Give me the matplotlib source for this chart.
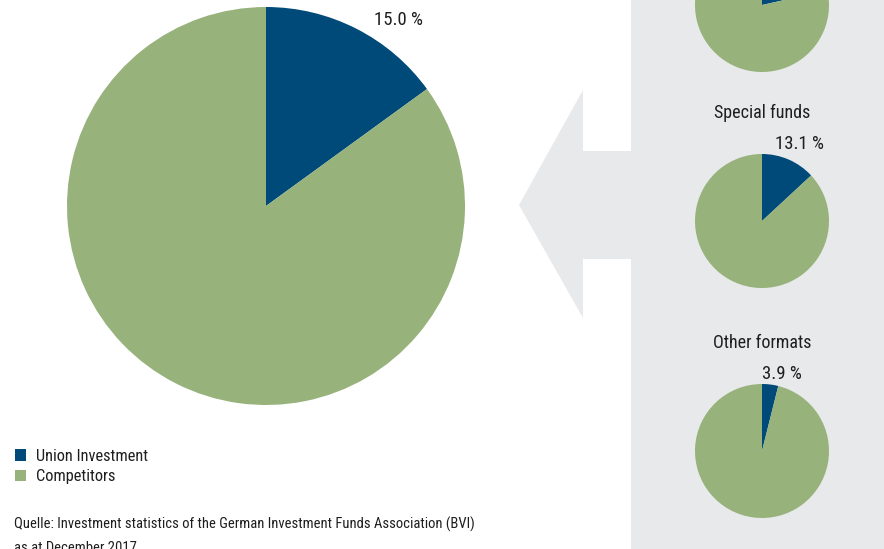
import matplotlib
matplotlib.use("Agg")
import matplotlib.pyplot as plt
from matplotlib.patches import Polygon, Rectangle

plt.rcParams["font.family"] = ["Roboto Condensed", "Roboto", "DejaVu Sans"]

BLUE = "#004a79"
GREEN = "#97b27b"
PANEL = "#e8e9eb"
INK = "#1e1e1e"

# market shares, percent of fund assets
series = ["Union Investment", "Competitors"]
total_share = 15.0
segments = ["Retail funds", "Special funds", "Other formats"]
segment_share = [21.5, 13.1, 3.9]

W, H = 884, 549
fig = plt.figure(figsize=(W / 100, H / 100), dpi=100)
ax = fig.add_axes([0, 0, 1, 1])


def py(y):
    # top-down pixel row -> data y
    return H - y


# grey panel and arrow pointing to the overall pie
ax.add_patch(Rectangle((631, 0), W - 631, H, color=PANEL, lw=0, zorder=0))
ax.add_patch(Polygon([(519, py(205)), (583, py(90)), (583, py(151)), (632, py(151)),
                      (632, py(259)), (583, py(259)), (583, py(318))],
                     closed=True, color=PANEL, lw=0, zorder=0))

# overall pie
wedges, _ = ax.pie([total_share, 100 - total_share], colors=[BLUE, GREEN],
                   startangle=90, counterclock=False, radius=199,
                   center=(266, py(206)), wedgeprops=dict(linewidth=0))
ax.text(398, py(20), f"{total_share:.1f} %", ha="center", va="center",
        fontsize=13.5, color=INK)

# one small pie per fund segment, with the label offsets above each
centers_y = [5, 221, 451]
pct_dx = [13, 13, 0]
for name, share, cy, dx in zip(segments, segment_share, centers_y, pct_dx):
    ax.pie([share, 100 - share], colors=[BLUE, GREEN], startangle=90,
           counterclock=False, radius=67, center=(762, py(cy)),
           wedgeprops=dict(linewidth=0))
    ax.text(762, py(cy - 108), name, ha="center", va="center",
            fontsize=13, color=INK)
    ax.text(762 + dx, py(cy - 77), f"{share:.1f} %", ha="left", va="center",
            fontsize=13.5, color=INK)

ax.legend(wedges, series, loc="upper left", bbox_to_anchor=(8 / W, 1 - 442 / H),
          frameon=False, fontsize=11.8, handlelength=0.7, handleheight=0.7,
          handletextpad=0.6, labelspacing=0.35, borderaxespad=0, labelcolor=INK)

ax.text(14, py(524), "Quelle: Investment statistics of the German Investment Funds Association (BVI)",
        ha="left", va="center", fontsize=10.5, color=INK)
ax.text(14, py(548), "as at December 2017", ha="left", va="center",
        fontsize=10.5, color=INK)

ax.set_xlim(0, W)
ax.set_ylim(0, H)
ax.set_aspect("auto")
ax.axis("off")

fig.savefig("out.png", dpi=100)
